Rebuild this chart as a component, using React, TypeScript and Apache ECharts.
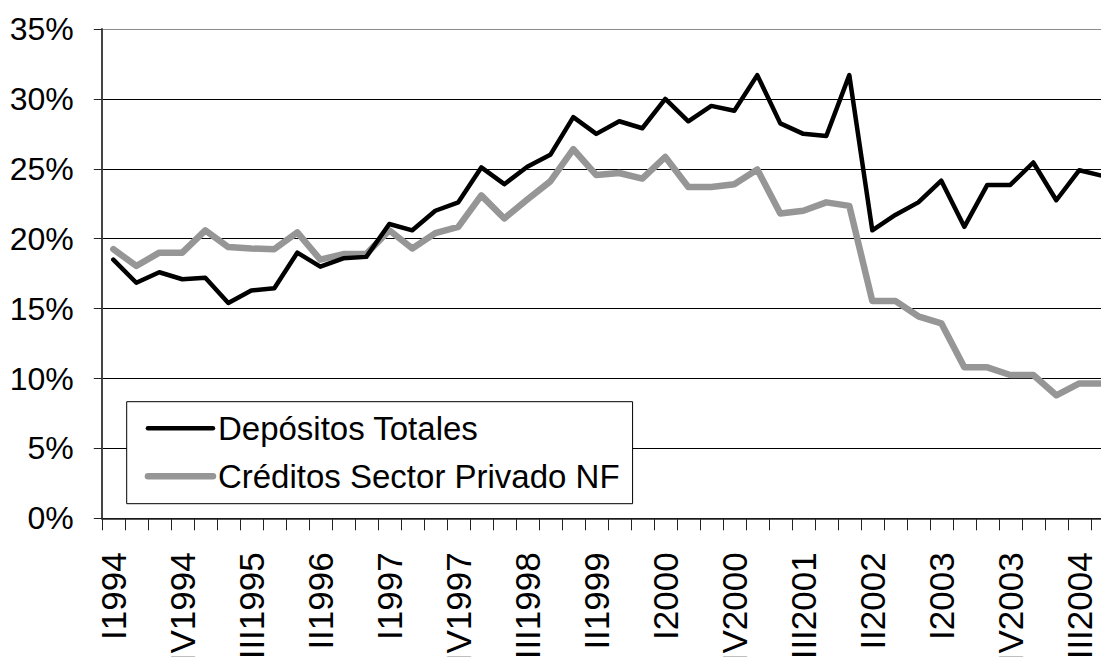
import React, { useEffect, useRef } from "react";
import * as echarts from "echarts";

const quarters = [
  "I1994","II1994","III1994","IV1994",
  "I1995","II1995","III1995","IV1995",
  "I1996","II1996","III1996","IV1996",
  "I1997","II1997","III1997","IV1997",
  "I1998","II1998","III1998","IV1998",
  "I1999","II1999","III1999","IV1999",
  "I2000","II2000","III2000","IV2000",
  "I2001","II2001","III2001","IV2001",
  "I2002","II2002","III2002","IV2002",
  "I2003","II2003","III2003","IV2003",
  "I2004","II2004","III2004","IV2004",
];

const depositosTotales = [
  18.5, 16.85, 17.6, 17.1, 17.2, 15.4, 16.3, 16.45, 19.0, 18.0, 18.6, 18.7,
  21.05, 20.6, 22.0, 22.6, 25.1, 23.9, 25.15, 26.0, 28.7, 27.5, 28.4, 27.9,
  30.0, 28.4, 29.5, 29.15, 31.7, 28.25, 27.5, 27.35, 31.7, 20.6, 21.7, 22.6,
  24.15, 20.85, 23.85, 23.85, 25.45, 22.75, 24.9, 24.5,
];

const creditosPrivadoNF = [
  19.25, 18.05, 19.0, 19.0, 20.6, 19.4, 19.3, 19.25, 20.45, 18.5, 18.9, 18.9,
  20.6, 19.3, 20.4, 20.85, 23.1, 21.45, 22.8, 24.1, 26.4, 24.55, 24.7, 24.3,
  25.85, 23.7, 23.7, 23.9, 24.95, 21.8, 22.0, 22.6, 22.35, 15.55, 15.55, 14.45,
  13.95, 10.8, 10.8, 10.25, 10.25, 8.8, 9.65, 9.65,
];

const seriesNames = ["Depósitos Totales", "Créditos Sector Privado NF"];

const FONT = "'Liberation Sans', Arial, sans-serif";

export default function App() {
  const ref = useRef<HTMLDivElement>(null);

  useEffect(() => {
    if (!ref.current) return;
    const chart = echarts.init(ref.current, undefined, { renderer: "svg" });
    chart.setOption({
      animation: false,
      backgroundColor: "#ffffff",
      grid: {
        left: 101.8,
        top: 29,
        right: -12.8,
        bottom: 138.7,
        containLabel: false,
        outerBoundsMode: "none",
      },
      legend: {
        orient: "vertical",
        left: 126.7,
        top: 401.7,
        backgroundColor: "#ffffff",
        borderColor: "#000000",
        borderWidth: 1,
        borderRadius: 0,
        padding: [10, 13, 11, 18],
        itemWidth: 65,
        itemHeight: 8,
        itemGap: 15,
        textStyle: { fontFamily: FONT, fontSize: 33, color: "#000000" },
        data: [
          {
            name: seriesNames[0],
            itemStyle: { color: "transparent", borderWidth: 0, opacity: 0 },
            lineStyle: { width: 4.5, color: "#000000", cap: "round" },
          },
          {
            name: seriesNames[1],
            itemStyle: { color: "transparent", borderWidth: 0, opacity: 0 },
            lineStyle: { width: 6.5, color: "#969696", cap: "round" },
          },
        ],
      },
      xAxis: {
        type: "category",
        data: quarters,
        boundaryGap: true,
        axisLine: { show: true, lineStyle: { color: "#222222", width: 1.5 } },
        axisTick: { show: true, interval: 0, length: 12, lineStyle: { color: "#222222", width: 1 } },
        axisLabel: {
          interval: 2,
          rotate: 90,
          margin: 34,
          fontFamily: FONT,
          fontSize: 35,
          color: "#000000",
        },
        splitLine: { show: false },
      },
      yAxis: {
        type: "value",
        min: 0,
        max: 35,
        interval: 5,
        axisLine: { show: true, lineStyle: { color: "#444444", width: 2 } },
        axisTick: { show: true, length: 8, lineStyle: { color: "#222222", width: 1 } },
        axisLabel: {
          margin: 28,
          fontFamily: FONT,
          fontSize: 32,
          color: "#000000",
          formatter: (v: number) => `${v}%`,
        },
        splitLine: {
          show: true,
          lineStyle: {
            color: ["#000000", "#000000", "#000000", "#000000", "#000000", "#000000", "#000000", "#8c8c8c"],
            width: 1,
          },
        },
      },
      series: [
        {
          name: seriesNames[1],
          type: "line",
          data: creditosPrivadoNF,
          symbol: "none",
          z: 2,
          lineStyle: { color: "#969696", width: 6.5, join: "round", cap: "round" },
          itemStyle: { color: "#969696" },
        },
        {
          name: seriesNames[0],
          type: "line",
          data: depositosTotales,
          symbol: "none",
          z: 3,
          lineStyle: { color: "#000000", width: 4.5, join: "round", cap: "round" },
          itemStyle: { color: "#000000" },
        },
      ],
    });
    return () => chart.dispose();
  }, []);

  return (
    <div
      ref={ref}
      style={{ position: "absolute", left: 0, top: 0, width: 1101, height: 657 }}
    />
  );
}
